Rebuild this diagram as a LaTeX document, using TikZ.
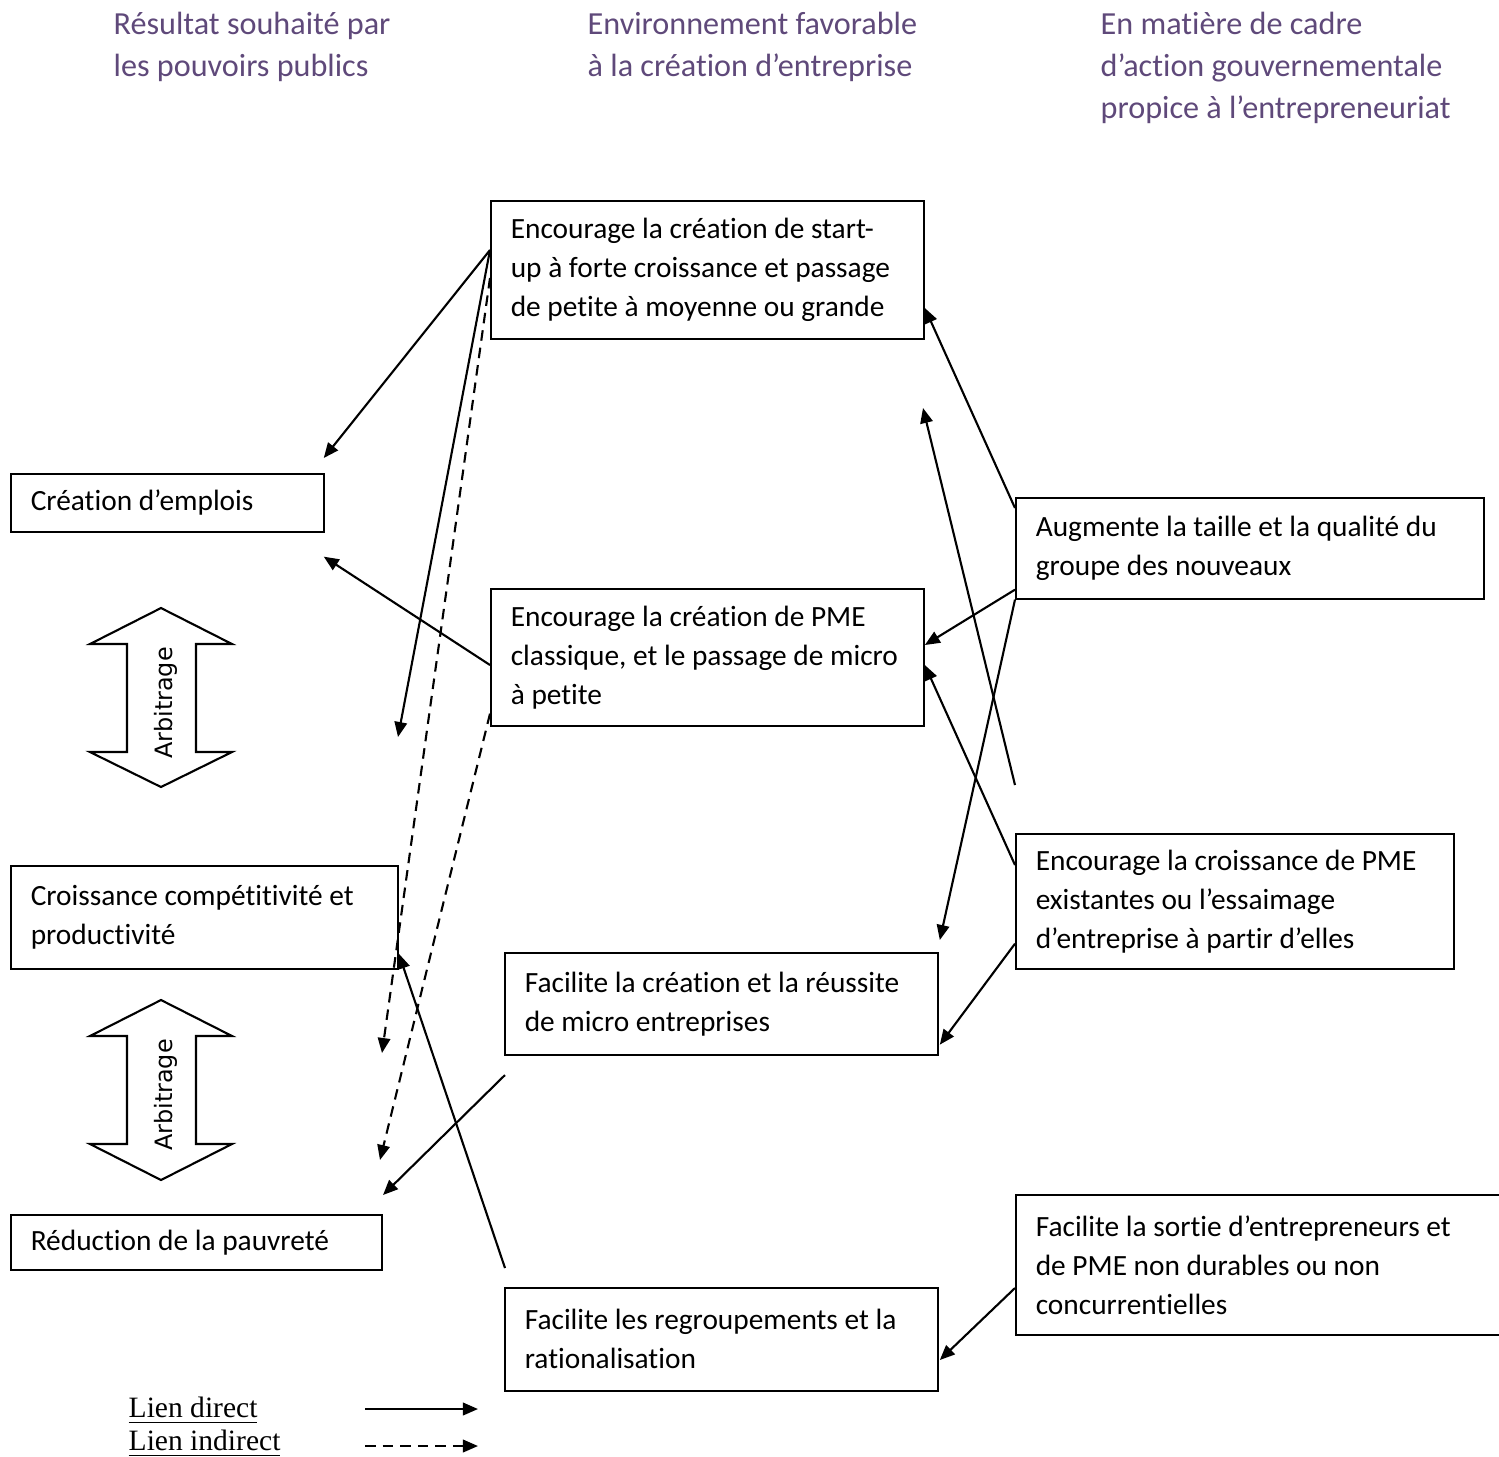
\documentclass[tikz,border=0pt]{standalone}
\usepackage{fontspec}
\setmainfont{Carlito}[Ligatures={NoCommon}]
\newfontfamily\dejavu{DejaVu Sans}
\newfontfamily\timesf{Liberation Serif}
\usetikzlibrary{arrows.meta,calc}
\definecolor{headpurple}{RGB}{95,73,122}
\tikzset{
  natural spacing/.style={execute at begin node={\spaceskip=0pt\xspaceskip=0pt\rightskip=0pt plus 1fil minus 1cm\hyphenpenalty=10000\relax}},
  box/.style={draw, line width=0.45pt, inner xsep=0.2cm, inner ysep=0pt, align=left, anchor=north west,
    natural spacing, font=\fontsize{8.35}{11.1}\selectfont},
  head/.style={anchor=north west, inner sep=0pt, align=left, text=headpurple, natural spacing,
    font=\fontsize{9.15}{12.0}\selectfont},
  link/.style={line width=0.6pt, -{Triangle[length=0.15cm,width=0.125cm]}},
  ilink/.style={link, dash pattern=on 3pt off 2pt},
  dblarrow/.style={draw, line width=0.6pt, fill=white},
  arbtext/.style={rotate=90, inner sep=0pt, font=\dejavu\fontsize{6.8}{8}\selectfont},
  legtext/.style={anchor=base west, inner sep=0pt, font=\timesf\fontsize{8.4}{9.7}\selectfont}
}
\begin{document}
\begin{tikzpicture}[x=0.01cm, y=-0.01cm]
\useasboundingbox (0,0) rectangle (1499,1456);

% headers
\node[head] (h1) at (113,11) {Résultat souhaité par\\les pouvoirs publics};
\node[head] (h2) at (587,11) {Environnement favorable\\à la création d’entreprise};
\node[head] (h3) at (1100,11) {En matière de cadre\\d’action gouvernementale\\propice à l’entrepreneuriat};

% boxes
\node[box, text width=3.93cm, minimum height=1.38cm] (top) at (490,200)
  {Encourage la création de start-\\up à forte croissance et passage\\de petite à moyenne ou grande};
\node[box, text width=2.73cm, minimum height=0.58cm] (emploi) at (10,473)
  {Création d’emplois};
\node[box, text width=3.93cm, minimum height=1.37cm] (pme) at (490,588)
  {Encourage la création de PME\\classique, et le passage de micro\\à petite};
\node[box, text width=3.47cm, minimum height=1.03cm] (croiss) at (10,865)
  {Croissance compétitivité et\\productivité};
\node[box, text width=3.93cm, minimum height=1.02cm] (micro) at (504,952)
  {Facilite la création et la réussite\\de micro entreprises};
\node[box, text width=3.31cm, minimum height=0.55cm] (pauv) at (10,1214)
  {Réduction de la pauvreté};
\node[box, text width=3.93cm, minimum height=1.03cm] (regroup) at (504,1287)
  {Facilite les regroupements et la\\rationalisation};
\node[box, text width=4.28cm, minimum height=1.01cm] (augm) at (1015,497)
  {Augmente la taille et la qualité du\\groupe des nouveaux};
\node[box, text width=3.98cm, minimum height=1.35cm] (encr) at (1015,833)
  {Encourage la croissance de PME\\existantes ou l’essaimage\\d’entreprise à partir d’elles};
\node[box, text width=4.60cm, minimum height=1.40cm] (sortie) at (1015,1194)
  {Facilite la sortie d’entrepreneurs et\\de PME non durables ou non\\concurrentielles};

% arbitrage double arrows
\draw[dblarrow] (161,608) -- (232,644) -- (196,644) -- (196,752) -- (232,752) -- (161,787)
  -- (90,752) -- (127,752) -- (127,644) -- (90,644) -- cycle;
\node[arbtext] (arb1) at (166,703) {Arbitrage};
\draw[dblarrow] (161,1000) -- (232,1036) -- (196,1036) -- (196,1144) -- (232,1144) -- (161,1180)
  -- (90,1144) -- (127,1144) -- (127,1036) -- (90,1036) -- cycle;
\node[arbtext] (arb2) at (166,1095) {Arbitrage};

% free ends
\coordinate (f1) at (398,737);
\coordinate (f2) at (382,1053);
\coordinate (f3) at (380,1160);
\coordinate (f4) at (505,1268);
\coordinate (f5) at (505,1075);
\coordinate (f6) at (383,1195);
\coordinate (f7) at (1015,785);
\coordinate (f8) at (923,408);

% connectors from the start-up box
\draw[link] ($(top.north west)+(0,50)$) -- ($(emploi.north east)+(-1,-15)$);
\draw[link] ($(top.north west)+(0,50)$) -- (f1);
\draw[ilink] ($(top.north west)+(0,78)$) -- (f2);
% from the PME box
\draw[link] ($(pme.north west)+(0,77)$) -- ($(emploi.south east)+(-1,24)$);
\draw[ilink] ($(pme.south west)+(0,-13)$) -- (f3);
% into croissance / pauvreté
\draw[link] (f4) -- ($(croiss.south east)+(0,-16)$);
\draw[link] (f5) -- (f6);
% from the right column
\draw[link] ($(augm.north west)+(0,11)$) -- ($(top.north east)+(0,108)$);
\draw[link] (f7) -- (f8);
\draw[link] ($(augm.south west)+(0,-10)$) -- ($(pme.north east)+(0,57)$);
\draw[link] (augm.south west) -- ($(micro.north east)+(1,-12)$);
\draw[link] ($(encr.north west)+(0,32)$) -- ($(pme.north east)+(0,77)$);
\draw[link] ($(encr.south west)+(0,-26)$) -- ($(micro.south east)+(1,-11)$);
\draw[link] ($(sortie.north west)+(0,94)$) -- ($(regroup.north east)+(1,73)$);

% legend
\node[legtext] (ld) at (128,1417) {\underline{Lien direct}};
\node[legtext] (li) at (128,1450) {\underline{Lien indirect}};
\coordinate (ld1) at (365,1409);
\coordinate (ld2) at (478,1409);
\coordinate (li1) at (365,1446);
\coordinate (li2) at (478,1446);
\draw[link] (ld1) -- (ld2);
\draw[ilink] (li1) -- (li2);
\end{tikzpicture}
\end{document}
